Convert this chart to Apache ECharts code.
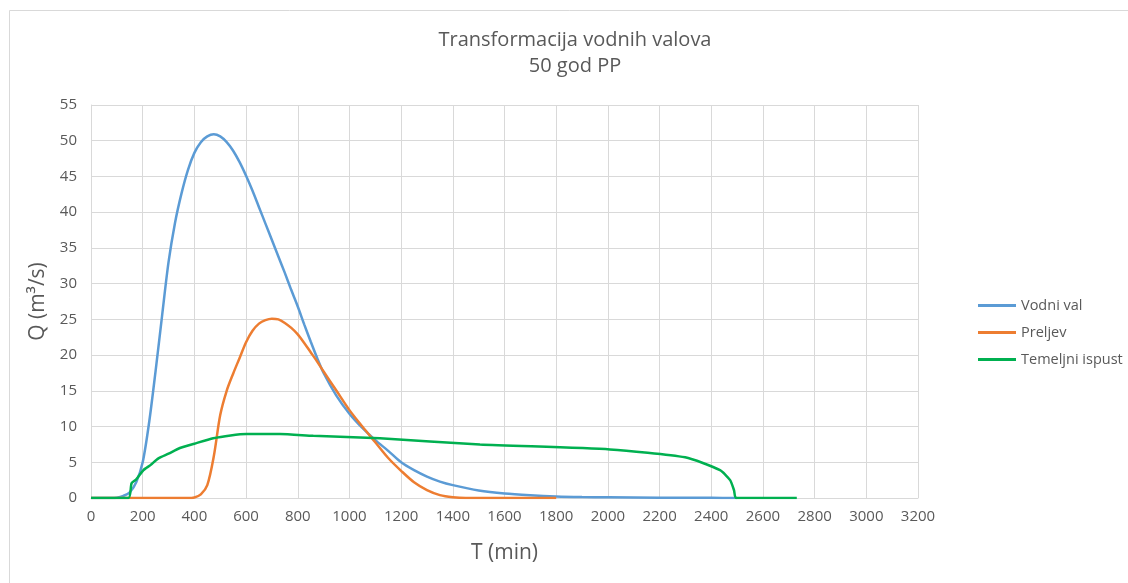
<!DOCTYPE html>
<html>
<head>
<meta charset="utf-8">
<script src="https://cdn.jsdelivr.net/npm/echarts@6/dist/echarts.min.js"></script>
<style>html,body{margin:0;padding:0;background:#fff}#c{width:1128px;height:583px}</style>
</head>
<body>
<div id="c"></div>
<script>
const titleLines = ['Transformacija vodnih valova', '50 god PP'];
const xAxisName = 'T (min)';
const yAxisName = 'Q (m³/s)';
const seriesNames = ['Vodni val', 'Preljev', 'Temeljni ispust'];

const vodniT = [0, 25, 50, 75, 100, 125, 150, 175, 200, 225, 250, 275, 300, 325, 350, 375, 400, 425, 450, 475, 500, 525, 550, 575, 600, 625, 650, 675, 700, 725, 750, 775, 800, 825, 850, 875, 900, 950, 1000, 1050, 1100, 1150, 1200, 1250, 1300, 1350, 1400, 1500, 1600, 1700, 1800, 1900, 2000, 2200, 2400, 2500];
const vodniQ = [0, 0, 0, 0, 0.05, 0.3, 0.8, 2.2, 5.0, 10.6, 17.8, 25.5, 33.0, 38.5, 42.6, 45.9, 48.3, 49.8, 50.6, 50.9, 50.6, 49.8, 48.6, 47.0, 45.1, 43.0, 40.7, 38.4, 36.1, 33.8, 31.5, 29.1, 26.8, 24.3, 21.9, 19.6, 17.5, 14.3, 11.8, 9.8, 8.1, 6.6, 5.0, 3.9, 3.0, 2.3, 1.8, 1.05, 0.62, 0.38, 0.22, 0.14, 0.1, 0.05, 0.02, 0];

const preljevT = [0, 100, 200, 300, 375, 400, 425, 450, 475, 500, 525, 550, 575, 600, 625, 650, 675, 700, 725, 750, 775, 800, 825, 850, 875, 900, 950, 1000, 1050, 1100, 1150, 1200, 1250, 1300, 1350, 1400, 1450, 1500, 1600, 1700, 1800];
const preljevQ = [0, 0, 0, 0, 0, 0.08, 0.5, 1.8, 5.8, 11.6, 15.0, 17.4, 19.6, 21.8, 23.4, 24.4, 24.9, 25.1, 25.0, 24.5, 23.8, 22.9, 21.7, 20.4, 19.1, 17.7, 15.0, 12.3, 10.0, 7.8, 5.6, 3.8, 2.2, 1.1, 0.4, 0.1, 0, 0, 0, 0, 0];

const temeljniT = [0, 145, 157, 175, 203, 230, 261, 300, 344, 400, 473, 540, 602, 731, 860, 1118, 1505, 2008, 2299, 2434, 2473, 2488, 2496, 2731];
const temeljniQ = [0, 0, 2.05, 2.6, 3.9, 4.6, 5.55, 6.2, 7.0, 7.6, 8.35, 8.75, 8.95, 8.95, 8.7, 8.35, 7.5, 6.8, 5.7, 3.9, 2.5, 1.1, 0, 0];

const colors = ['#5B9BD5', '#ED7D31', '#00B050'];
const pair = (t, q) => t.map((v, i) => [v, q[i]]);
const FONT = 'Open Sans';

const chart = echarts.init(document.getElementById('c'), null, {renderer: 'canvas'});
chart.setOption({
  animation: false,
  backgroundColor: '#fff',
  color: colors,
  graphic: [
    {type: 'rect', shape: {x: 9.5, y: 10.5, width: 1200, height: 700}, style: {fill: 'none', stroke: '#d9d9d9', lineWidth: 1}, silent: true, z: -1},
    {type: 'text', style: {text: titleLines.join('\n'), x: 575, y: 27, textAlign: 'center', fill: '#595959', font: '20px "Open Sans"', lineHeight: 26}}
  ],
  grid: {left: 91, right: 210, top: 105, bottom: 85, containLabel: false},
  legend: {
    orient: 'vertical', left: 973, top: 293, itemWidth: 38, itemHeight: 3, icon: 'rect', itemGap: 12,
    textStyle: {color: '#595959', fontSize: 14.5, fontFamily: FONT},
    data: seriesNames
  },
  xAxis: {
    type: 'value', min: 0, max: 3200, interval: 200,
    name: xAxisName, nameLocation: 'middle', nameGap: 45,
    nameTextStyle: {color: '#595959', fontSize: 21, fontFamily: FONT},
    axisLine: {show: true, lineStyle: {color: '#d9d9d9'}},
    axisTick: {show: false},
    axisLabel: {color: '#595959', fontSize: 15, fontFamily: FONT, margin: 11, formatter: v => String(v)},
    splitLine: {show: true, lineStyle: {color: '#d9d9d9'}}
  },
  yAxis: {
    type: 'value', min: 0, max: 55, interval: 5,
    name: yAxisName, nameLocation: 'middle', nameGap: 42, nameRotate: 90,
    nameTextStyle: {color: '#595959', fontSize: 21, fontFamily: FONT},
    axisLine: {show: true, lineStyle: {color: '#d9d9d9'}},
    axisTick: {show: false},
    axisLabel: {color: '#595959', fontSize: 15, fontFamily: FONT, margin: 14, formatter: v => String(v)},
    splitLine: {show: true, lineStyle: {color: '#d9d9d9'}}
  },
  series: [
    {name: seriesNames[0], type: 'line', data: pair(vodniT, vodniQ), smooth: 0.3, showSymbol: false, symbol: 'none', lineStyle: {width: 2.5, color: colors[0]}, z: 2},
    {name: seriesNames[1], type: 'line', data: pair(preljevT, preljevQ), smooth: 0.3, showSymbol: false, symbol: 'none', lineStyle: {width: 2.5, color: colors[1]}, z: 3},
    {name: seriesNames[2], type: 'line', data: pair(temeljniT, temeljniQ), smooth: 0.2, showSymbol: false, symbol: 'none', lineStyle: {width: 2.5, color: colors[2]}, z: 4}
  ]
});
</script>
</body>
</html>
